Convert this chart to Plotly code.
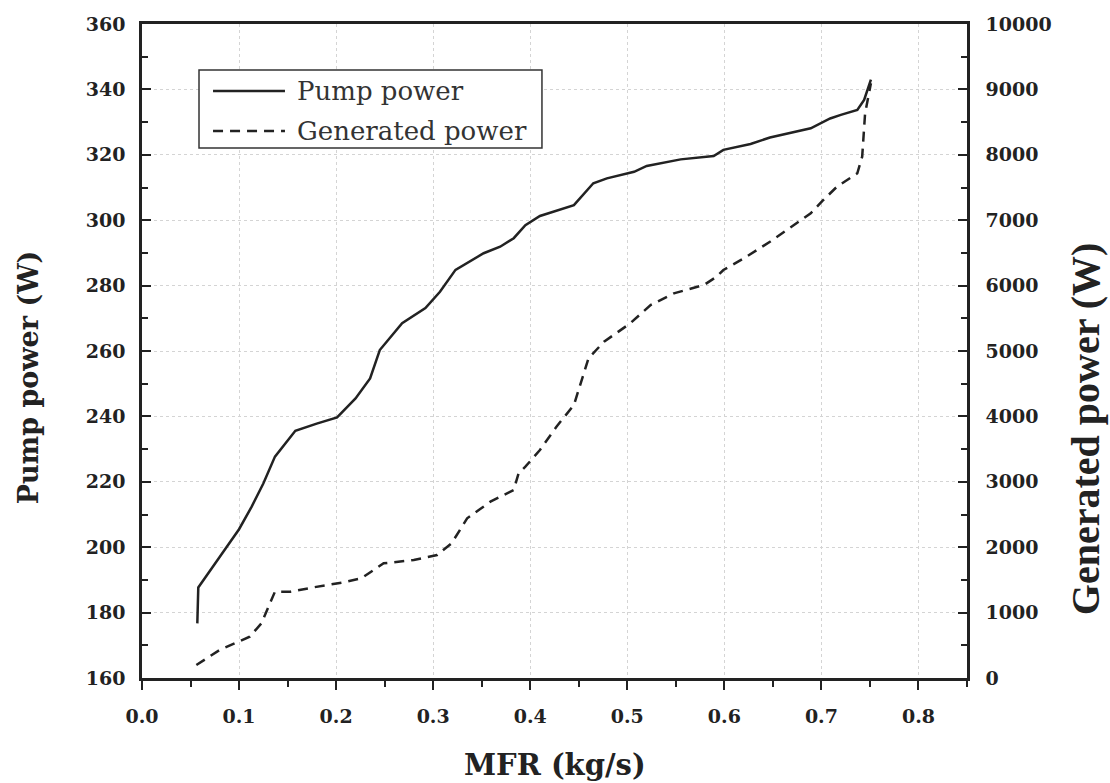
import plotly.graph_objects as go

# Pump power (left axis)
pump_x = [0.057, 0.058, 0.080, 0.100, 0.113, 0.125, 0.137, 0.158, 0.180, 0.201, 0.220,
          0.235, 0.245, 0.268, 0.292, 0.307, 0.323, 0.352, 0.369, 0.383, 0.395, 0.410,
          0.445, 0.465, 0.479, 0.507, 0.520, 0.555, 0.589, 0.599, 0.627, 0.647, 0.689,
          0.709, 0.720, 0.737, 0.744, 0.751]
pump_y = [176.7, 187.7, 197.0, 205.5, 212.4, 219.5, 227.7, 235.6, 237.8, 239.7, 245.5,
          251.6, 260.3, 268.5, 273.1, 278.1, 284.8, 289.9, 291.9, 294.5, 298.5, 301.3,
          304.6, 311.3, 312.8, 314.8, 316.6, 318.6, 319.6, 321.5, 323.3, 325.3, 328.1,
          331.1, 332.2, 333.7, 336.8, 343.0]

# Generated power (right axis)
gen_x = [0.056, 0.080, 0.111, 0.123, 0.137, 0.153, 0.177, 0.208, 0.226, 0.249, 0.280,
         0.304, 0.319, 0.335, 0.359, 0.383, 0.388, 0.395, 0.410, 0.427, 0.445, 0.453,
         0.460, 0.476, 0.503, 0.524, 0.548, 0.579, 0.592, 0.599, 0.620, 0.647, 0.689,
         0.702, 0.716, 0.737, 0.742, 0.745, 0.751]
gen_y = [199, 428, 632, 836, 1320, 1320, 1387, 1463, 1524, 1754, 1804,
         1881, 2060, 2442, 2696, 2875, 3130, 3231, 3486, 3842, 4174, 4556,
         4888, 5142, 5423, 5703, 5882, 6009, 6136, 6238, 6417, 6671, 7105,
         7309, 7512, 7717, 7971, 8634, 9093]

x_title = "MFR (kg/s)"
y_title = "Pump power (W)"
y2_title = "Generated power (W)"
legend_names = ["Pump power", "Generated power"]

LINE = "#222222"
GRID = "#d4d4d4"
tickfont = dict(family="DejaVu Serif", size=19, color="#222222", weight="bold")

fig = go.Figure()
fig.add_trace(go.Scatter(x=pump_x, y=pump_y, mode="lines", name=legend_names[0],
                         line=dict(color=LINE, width=2.5), showlegend=False))
fig.add_trace(go.Scatter(x=gen_x, y=gen_y, mode="lines", name=legend_names[1], yaxis="y2",
                         line=dict(color=LINE, width=2.5, dash="10px,7px"), showlegend=False))

fig.update_layout(
    width=1110, height=783,
    margin=dict(l=142, r=143, t=24, b=105),
    plot_bgcolor="white", paper_bgcolor="white",
    xaxis=dict(range=[0, 0.85], dtick=0.1, tick0=0, tickformat=".1f",
               ticks="outside", ticklen=9, tickwidth=2, tickcolor=LINE,
               minor=dict(dtick=0.05, ticks="outside", ticklen=6, tickwidth=2, tickcolor=LINE, showgrid=False),
               showline=True, linewidth=2.5, linecolor=LINE, mirror=True,
               showgrid=True, gridcolor=GRID, griddash="dot", gridwidth=1,
               zeroline=False, tickfont=tickfont, ticklabelstandoff=10),
    yaxis=dict(range=[160, 360], dtick=20, tick0=160,
               ticks="inside", ticklen=9, tickwidth=2, tickcolor=LINE,
               minor=dict(dtick=10, ticks="inside", ticklen=6, tickwidth=2, tickcolor=LINE, showgrid=False),
               showline=True, linewidth=2.5, linecolor=LINE,
               showgrid=True, gridcolor=GRID, griddash="dot", gridwidth=1,
               zeroline=False, tickfont=tickfont, ticklabelstandoff=10),
    yaxis2=dict(range=[0, 10000], dtick=1000, tick0=0, overlaying="y", side="right",
                tickformat="d",
                ticks="inside", ticklen=9, tickwidth=2, tickcolor=LINE,
                minor=dict(dtick=500, ticks="inside", ticklen=6, tickwidth=2, tickcolor=LINE, showgrid=False),
                showline=True, linewidth=2.5, linecolor=LINE,
                showgrid=False, zeroline=False, tickfont=tickfont, ticklabelstandoff=12),
)

# axis titles
fig.add_annotation(text=x_title, xref="paper", yref="paper", x=0.5, y=-0.133,
                   xanchor="center", yanchor="middle", showarrow=False,
                   font=dict(family="DejaVu Serif", size=29, color="#222222", weight="bold"))
fig.add_annotation(text=y_title, xref="paper", yref="paper", x=-0.138, y=0.46,
                   xanchor="center", yanchor="middle", showarrow=False, textangle=-90,
                   font=dict(family="DejaVu Serif", size=27, color="#222222", weight="bold"))
fig.add_annotation(text=y2_title, xref="paper", yref="paper", x=1.143, y=0.382,
                   xanchor="center", yanchor="middle", showarrow=False, textangle=-90,
                   font=dict(family="Liberation Serif", size=40, color="#222222", weight="bold"))

# legend box drawn manually
fig.add_shape(type="rect", xref="paper", yref="paper", x0=0.0691, x1=0.4848, y0=0.8104, y1=0.9297,
              line=dict(color="#333333", width=1.5), fillcolor="white", layer="above")
fig.add_shape(type="line", xref="paper", yref="paper", x0=0.0861, x1=0.1733, y0=0.8976, y1=0.8976,
              line=dict(color=LINE, width=2.5), layer="above")
fig.add_shape(type="line", xref="paper", yref="paper", x0=0.0861, x1=0.1733, y0=0.8364, y1=0.8364,
              line=dict(color=LINE, width=2.5, dash="10px,7px"), layer="above")
fig.add_annotation(text=legend_names[0], xref="paper", yref="paper", x=0.1855, y=0.8976,
                   xanchor="left", yanchor="middle", showarrow=False,
                   font=dict(family="DejaVu Serif", size=26, color="#333333"))
fig.add_annotation(text=legend_names[1], xref="paper", yref="paper", x=0.1855, y=0.8364,
                   xanchor="left", yanchor="middle", showarrow=False,
                   font=dict(family="DejaVu Serif", size=26, color="#333333"))

fig.write_html("out.html")
